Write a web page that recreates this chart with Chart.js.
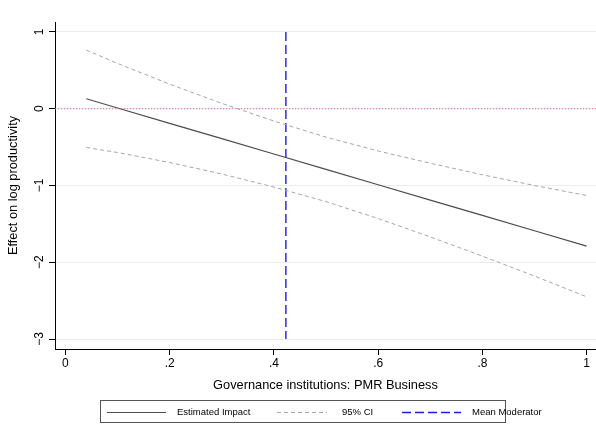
<!DOCTYPE html>
<html>
<head>
<meta charset="utf-8">
<script src="https://cdn.jsdelivr.net/npm/chart.js@4.4.1/dist/chart.umd.min.js"></script>
<style>
  html, body { margin: 0; padding: 0; background: #ffffff; }
  canvas { display: block; }
</style>
</head>
<body>
<canvas id="c" width="596" height="443"></canvas>
<script>
// Tick positions and their printed labels
const xTicks = [0, 0.2, 0.4, 0.6, 0.8, 1];
const xTickLabels = ['0', '.2', '.4', '.6', '.8', '1'];
const yTicks = [-3, -2, -1, 0, 1];
const yTickLabels = ['\u22123', '\u22122', '\u22121', '0', '1'];

// Marginal effect of the moderator with its 95% confidence band
const moderator = [0.04, 0.1, 0.2, 0.3, 0.4, 0.5, 0.6, 0.7, 0.8, 0.9, 1.0];
const estimate  = [0.13, 0.01, -0.19, -0.39, -0.59, -0.79, -0.99, -1.19, -1.39, -1.59, -1.79];
const ciUpper   = [0.765, 0.59, 0.32, 0.07, -0.16, -0.37, -0.55, -0.71, -0.86, -1.00, -1.13];
const ciLower   = [-0.505, -0.57, -0.70, -0.85, -1.02, -1.21, -1.43, -1.67, -1.92, -2.18, -2.45];

// Sample mean of the moderator, shown as a vertical reference
const meanModerator = 0.423;
const meanLineSpan = [1, -3];

const legendLabels = ['Estimated Impact', '95% CI', 'Mean Moderator'];

const X_MIN = -0.02, X_MAX = 1.018;
const Y_MIN = -3.13, Y_MAX = 1.13;

const FONT = "'Liberation Sans', Arial, Helvetica, sans-serif";
Chart.defaults.font.family = FONT;
Chart.defaults.color = '#000';

const STYLE = {
  est:  { color: '#4d4d4d', width: 1.2, dash: [] },
  ci:   { color: '#a6a6a6', width: 1,   dash: [4, 3] },
  mean: { color: '#1c1ce6', width: 1.4, dash: [9, 4] },
  zero: { color: '#e36a85', width: 1,   dash: [1.2, 1.8] }
};

const pts = (xs, ys) => xs.map((x, i) => ({ x, y: ys[i] }));

// Rotated y tick labels and the boxed legend underneath the plot
const extras = {
  id: 'extras',
  afterDraw(chart) {
    const ctx = chart.ctx;
    const ys = chart.scales.y;
    ctx.save();
    ctx.fillStyle = '#000';
    ctx.font = '12px ' + FONT;
    ctx.textAlign = 'center';
    ctx.textBaseline = 'alphabetic';
    yTicks.forEach((v, i) => {
      const p = ys.getPixelForValue(v);
      ctx.save();
      ctx.translate(43, p);
      ctx.rotate(-Math.PI / 2);
      ctx.fillText(yTickLabels[i], 0, 0);
      ctx.restore();
    });

    // legend box
    const bx = 100.5, by = 400.5, bw = 405, bh = 22;
    ctx.strokeStyle = '#555';
    ctx.lineWidth = 1;
    ctx.strokeRect(bx, by, bw, bh);
    const rowY = by + bh / 2;
    const items = [
      { s: STYLE.est,  x0: 107, x1: 166, tx: 177 },
      { s: STYLE.ci,   x0: 277, x1: 327, tx: 342 },
      { s: STYLE.mean, x0: 402, x1: 461, tx: 472 }
    ];
    ctx.font = '9.5px ' + FONT;
    ctx.textAlign = 'left';
    ctx.textBaseline = 'middle';
    items.forEach((it, i) => {
      ctx.beginPath();
      ctx.strokeStyle = it.s.color;
      ctx.lineWidth = it.s.width;
      ctx.setLineDash(it.s.dash);
      ctx.moveTo(it.x0, Math.round(rowY) + 0.5);
      ctx.lineTo(it.x1, Math.round(rowY) + 0.5);
      ctx.stroke();
      ctx.setLineDash([]);
      ctx.fillStyle = '#000';
      ctx.fillText(legendLabels[i], it.tx, rowY + 0.5);
    });
    ctx.restore();
  }
};

const ds = (label, data, s) => ({
  label, data,
  borderColor: s.color,
  borderWidth: s.width,
  borderDash: s.dash,
  pointRadius: 0,
  fill: false,
  tension: 0
});

new Chart(document.getElementById('c'), {
  type: 'line',
  data: {
    datasets: [
      ds('zero', pts([X_MIN, X_MAX], [0, 0]), STYLE.zero),
      ds(legendLabels[1] + ' upper', pts(moderator, ciUpper), STYLE.ci),
      ds(legendLabels[1] + ' lower', pts(moderator, ciLower), STYLE.ci),
      ds(legendLabels[0], pts(moderator, estimate), STYLE.est),
      ds(legendLabels[2], pts([meanModerator, meanModerator], meanLineSpan), STYLE.mean)
    ]
  },
  options: {
    responsive: false,
    animation: false,
    devicePixelRatio: 1,
    layout: { padding: { top: 22, right: 0, bottom: 0, left: 0 } },
    plugins: { legend: { display: false }, tooltip: { enabled: false } },
    scales: {
      x: {
        type: 'linear',
        min: X_MIN, max: X_MAX,
        afterBuildTicks: s => { s.ticks = xTicks.map(v => ({ value: v })); },
        afterFit: s => { s.height = 94; },
        ticks: {
          callback: (v, i) => xTickLabels[i],
          font: { size: 12 }, color: '#000', padding: 1, maxRotation: 0
        },
        grid: { drawOnChartArea: false, drawTicks: true, tickLength: 6, tickColor: '#000', tickWidth: 1 },
        border: { display: true, color: '#000', width: 1 },
        title: {
          display: true, text: 'Governance institutions: PMR Business',
          font: { size: 12.8 }, color: '#000', padding: { top: 0, bottom: 50 }
        }
      },
      y: {
        type: 'linear',
        min: Y_MIN, max: Y_MAX,
        afterBuildTicks: s => { s.ticks = yTicks.map(v => ({ value: v })); },
        afterFit: s => { s.width = 55; },
        ticks: { display: false },
        grid: { color: '#ececec', lineWidth: 1, drawTicks: true, tickLength: 6, tickColor: '#000', tickWidth: 1 },
        border: { display: true, color: '#000', width: 1 },
        title: {
          display: true, text: 'Effect on log productivity',
          font: { size: 12.8 }, color: '#000', padding: { top: 6, bottom: 0 }
        }
      }
    }
  },
  plugins: [extras]
});
</script>
</body>
</html>
